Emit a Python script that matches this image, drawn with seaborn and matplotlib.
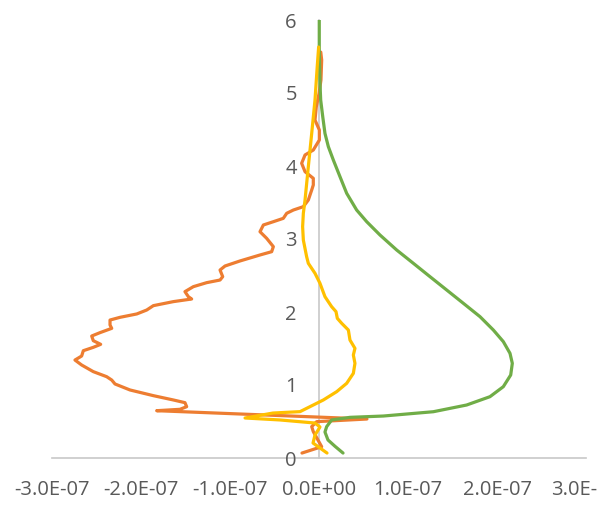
import matplotlib
matplotlib.use("Agg")
import matplotlib.pyplot as plt
import seaborn as sns
import pandas as pd

# ---- data (x values in units of 1e-7, y heights) ----
green_x = [0.270, 0.180, 0.101, 0.067, 0.086, 0.142, 0.348, 0.723, 1.285, 1.659,
           1.921, 2.071, 2.154, 2.172, 2.146, 2.071, 1.959, 1.809, 1.622, 1.435,
           1.247, 1.060, 0.873, 0.685, 0.536, 0.423, 0.311, 0.236, 0.161, 0.105,
           0.067, 0.042, 0.019, 0.011, 0.003, 0.003]
green_y = [0.068, 0.160, 0.247, 0.356, 0.429, 0.521, 0.557, 0.575, 0.634, 0.726,
           0.840, 0.977, 1.137, 1.297, 1.434, 1.594, 1.753, 1.936, 2.119, 2.301,
           2.484, 2.667, 2.849, 3.055, 3.237, 3.397, 3.626, 3.853, 4.082, 4.265,
           4.447, 4.676, 4.904, 5.133, 5.589, 6.000]

orange_x = [-0.191, 0.030, -0.064, -0.082, -0.026, 0.539, -1.824, -1.562, -1.487, -1.506,
            -1.637, -1.861, -2.124, -2.292, -2.329, -2.386, -2.536, -2.667, -2.742, -2.667,
            -2.648, -2.536, -2.453, -2.536, -2.554, -2.461, -2.329, -2.348, -2.348, -2.236,
            -2.048, -1.936, -1.861, -1.637, -1.431, -1.468, -1.506, -1.412, -1.262, -1.112,
            -1.082, -1.112, -1.056, -0.888, -0.663, -0.532, -0.513, -0.588, -0.663, -0.625,
            -0.513, -0.401, -0.363, -0.288, -0.176, -0.120, -0.082, -0.064, -0.064, -0.157,
            -0.195, -0.157, -0.064, 0.004, 0.004, -0.045, -0.030, 0.000, 0.022, 0.030, 0.020]
orange_y = [0.068, 0.155, 0.361, 0.430, 0.498, 0.534, 0.648, 0.667, 0.703, 0.758,
            0.795, 0.854, 0.932, 1.014, 1.068, 1.114, 1.183, 1.274, 1.342, 1.397,
            1.470, 1.516, 1.557, 1.607, 1.671, 1.717, 1.776, 1.822, 1.890, 1.927,
            1.973, 2.027, 2.087, 2.142, 2.178, 2.210, 2.279, 2.347, 2.402, 2.438,
            2.484, 2.575, 2.630, 2.699, 2.781, 2.826, 2.895, 3.009, 3.100, 3.192,
            3.237, 3.283, 3.352, 3.397, 3.443, 3.534, 3.671, 3.740, 3.831, 3.922,
            4.037, 4.151, 4.219, 4.356, 4.493, 4.630, 4.813, 4.990, 5.178, 5.452, 5.560]

yellow_x = [0.090, -0.067, -0.045, 0.011, -0.045, -0.438, -0.831, -0.517, -0.213, -0.064,
            0.049, 0.199, 0.311, 0.386, 0.404, 0.386, 0.404, 0.348, 0.330, 0.255,
            0.206, 0.191, 0.142, 0.067, 0.011, -0.045, -0.120, -0.139, -0.176, -0.184,
            -0.176, -0.157, -0.120, -0.082, -0.045, -0.020, -0.004]
yellow_y = [0.068, 0.205, 0.315, 0.425, 0.479, 0.521, 0.548, 0.616, 0.635, 0.726,
            0.795, 0.909, 1.023, 1.160, 1.297, 1.411, 1.502, 1.616, 1.753, 1.845,
            1.913, 2.005, 2.073, 2.210, 2.393, 2.530, 2.667, 2.758, 2.986, 3.169,
            3.352, 3.534, 3.990, 4.447, 4.904, 5.360, 5.630]

x_ticks = [-3e-7, -2e-7, -1e-7, 0.0, 1e-7, 2e-7, 3e-7]
x_tick_labels = ["-3.0E-07", "-2.0E-07", "-1.0E-07", "0.0E+00", "1.0E-07", "2.0E-07", "3.0E-07"]
y_ticks = [0, 1, 2, 3, 4, 5, 6]

series = [("Orange", orange_x, orange_y, "#ED7D31"),
          ("Green", green_x, green_y, "#70AD47"),
          ("Yellow", yellow_x, yellow_y, "#FFC000")]

sns.set_style("white")
plt.rcParams['font.family'] = ['Open Sans', 'DejaVu Sans']

fig = plt.figure(figsize=(5.97, 5.05), dpi=100)
ax = fig.add_axes([52/597, (505-458)/505, 534/597, 438/505])

for name, xs, ys, col in series:
    df = pd.DataFrame({"x": [v * 1e-7 for v in xs], "y": ys})
    sns.lineplot(data=df, x="x", y="y", sort=False, estimator=None, color=col,
                 linewidth=2.3, ax=ax, solid_capstyle="round", solid_joinstyle="round")

ax.set_xlim(-3e-7, 3e-7)
ax.set_ylim(0, 6)
ax.set_xticks(x_ticks)
ax.set_xticklabels(x_tick_labels)
ax.set_yticks(y_ticks)
ax.set_yticklabels([str(v) for v in y_ticks])
ax.set_xlabel("")
ax.set_ylabel("")

for s in ["top", "right"]:
    ax.spines[s].set_visible(False)
ax.spines["left"].set_position(("data", 0))
ax.spines["bottom"].set_position(("data", 0))
for s in ["left", "bottom"]:
    ax.spines[s].set_color("#C8C8C8")
    ax.spines[s].set_linewidth(1.2)
    ax.spines[s].set_zorder(0)

ax.tick_params(axis="x", length=0, pad=16, labelsize=14.5, colors="#595959")
ax.tick_params(axis="y", length=0, pad=16, labelsize=14.5, colors="#595959")
ax.grid(False)
ax.set_facecolor("none")

fig.savefig("out.png", dpi=100)
